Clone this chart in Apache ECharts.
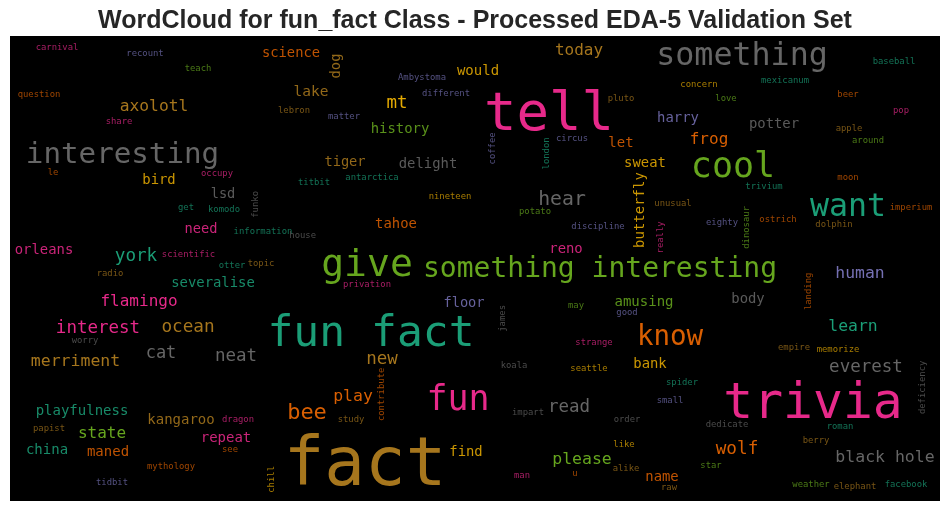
<!DOCTYPE html>
<html>
<head>
<meta charset="utf-8">
<style>html,body{margin:0;padding:0;background:#fff}#c{width:950px;height:511px}</style>
<script src="https://cdn.jsdelivr.net/npm/echarts@6/dist/echarts.min.js"></script>
</head>
<body>
<div id="c"></div>
<script>
const chartTitle = 'WordCloud for fun_fact Class - Processed EDA-5 Validation Set';
// each word: [text, x, y, weight, turned]
const tealWords = [
  ['fun fact',371,332,43],['want',848,206,31.6],['york',136,255,17.6],['severalise',213,282,13.9],
  ['playfulness',82,410,14],['china',47,449,14],['learn',853,326,16.4],['titbit',314,182,8.9],
  ['get',186,207,8.9],['komodo',224,209,8.9],['information',263,231,8.9],['otter',232,265,8.9],
  ['antarctica',372,177,8.9],['london',547,154,8.9,1],['baseball',894,61,8.9],['mexicanum',785,80,8.9],
  ['trivium',764,186,8.9],['spider',682,382,8.9],['roman',840,426,8.9],['facebook',906,484,8.9]
];
const orangeWords = [
  ['know',670,336,27.5],['bee',307,412,22],['science',291,52,13.8],['tahoe',396,223,13.9],
  ['frog',709,139,16],['let',621,142,14],['maned',108,451,14],['play',353,396,16.5],['wolf',737,448,17.7],
  ['name',662,476,13.9],['question',39,94,8.9],['le',53,172,8.9],['see',230,449,8.9],['mythology',171,466,8.9],
  ['landing',809,292,8.9,1],['contribute',382,395,8.9,1],['u',575,473,8.9],['beer',848,94,8.9],
  ['moon',848,177,8.9],['imperium',911,207,8.9],['ostrich',778,219,8.9]
];
const purpleWords = [
  ['human',860,273,16.4],['harry',678,117,13.9],['floor',464,302,13.7],['recount',145,53,8.9],
  ['Ambystoma',422,77,8.9],['different',446,93,8.9],['matter',344,116,8.9],['coffee',493,149,8.9,1],
  ['circus',572,138,8.9],['discipline',598,226,8.9],['good',627,312,8.9],['small',670,400,8.9],
  ['tidbit',112,482,8.9],['eighty',722,222,8.9]
];
const pinkWords = [
  ['tell',549,112,54],['trivia',813,402,49.7],['fun',458,398,35],['interest',98,327,17.5],['flamingo',139,301,16],
  ['orleans',44,249,13.9],['need',201,228,13.7],['repeat',226,437,14],['reno',566,248,13.9],
  ['carnival',57,47,8.9],['share',119,121,8.9],['occupy',217,173,8.9],['scientific',188.5,254,8.9],
  ['dragon',238,419,8.9],['privation',367,284,8.9],['strange',594,342,8.9],['man',522,475,8.9],
  ['pop',901,110,8.9],['really',661,238,8.9,1]
];
const greenWords = [
  ['give',367,263,38],['something interesting',600,268,28],['cool',733,165,35],['history',400,128,13.9],
  ['state',102,433,16],['amusing',644,301,14],['please',582,459,16.5],['teach',198,68,8.9],['may',576,305,8.9],
  ['love',726,98,8.9],['around',868,140,8.9],['potato',535,211,8.9],['dinosaur',747,228,8.9,1],
  ['star',711,465,8.9],['weather',811,484,8.9]
];
const goldWords = [
  ['mt',397,102,17.5],['bird',159,179,13.9],['would',478,70,14],['sweat',645,162,13.9],['butterfly',640,211,14,1],
  ['bank',650,363,13.9],['find',466,451,13.9],['nineteen',450,196,8.9],['chill',272,480,8.9,1],
  ['seattle',589,368,8.9],['memorize',838,349,8.9],['like',624,444,8.9],['concern',699,84,8.9]
];
const brownWords = [
  ['fact',365,463,67.5],['axolotl',154,106,16.3],['ocean',188,326,17.7],['merriment',75.5,361,16.5],
  ['kangaroo',181,419,14],['new',382,358,17.5],['today',579,50,16],['lake',311,91,14.5],['tiger',345,161,13.7],
  ['dog',336,67,13.9,1],['lebron',294,110,8.9],['radio',110,273,8.9],['topic',261,263,8.9],['papist',49,428,8.9],
  ['study',351,419,8.9],['pluto',621,98,8.9],['alike',626,468,8.9],['empire',794,347,8.9],['berry',816,440,8.9],
  ['raw',669,487,8.9],['elephant',855,486,8.9],['apple',849,128,8.9],['unusual',673,203,8.9],['dolphin',834,224,8.9]
];
const greyWords = [
  ['interesting',122.5,153,29.2],['something',742,55,31.7],['hear',562,198,19.8],['everest',866,366,17.5],
  ['black hole',885,457,16.5],['read',569,406,17.5],['cat',161,352,17],['neat',236,355,17.5],['lsd',223,193,13.7],
  ['delight',428,163,13.9],['potter',774,123,13.9],['body',748,298,13.9],['funko',256,205,8.9,1],['house',302.7,235,8.9],
  ['worry',85,340,8.9],['james',503,319,8.9,1],['koala',514,365,8.9],['impart',528,412,8.9],['order',627,419,8.9],
  ['dedicate',727,424,8.9],['deficiency',923,388,8.9,1]
];
const groups = [
  ['teal', tealWords, '#1b9e77'], ['orange', orangeWords, '#d95f02'], ['purple', purpleWords, '#7570b3'],
  ['pink', pinkWords, '#e7298a'], ['green', greenWords, '#66a61e'], ['gold', goldWords, '#e6ab02'],
  ['brown', brownWords, '#a6761d'], ['grey', greyWords, '#666666']
];
const chart = echarts.init(document.getElementById('c'), null, {renderer: 'canvas'});
chart.setOption({
  animation: false,
  backgroundColor: '#fff',
  title: {
    text: chartTitle, left: 'center', top: 4,
    textStyle: {fontFamily: '"Liberation Sans", Arial, sans-serif', fontWeight: 'bold', fontSize: 25, color: '#262626'}
  },
  grid: {left: 10, top: 36, width: 930, height: 465, show: true, backgroundColor: '#000', borderWidth: 0},
  xAxis: {type: 'value', min: 10, max: 940, show: false},
  yAxis: {type: 'value', min: 36, max: 501, inverse: true, show: false},
  series: groups.map(([name, words, color]) => ({
    name, type: 'scatter', symbolSize: 1, silent: true,
    itemStyle: {color: 'transparent'},
    data: words.map(w => {
      const shift = w[3] * 0.07;
      return {
        value: [w[1], w[2]],
        label: {
          show: true, position: 'inside', formatter: w[0], color,
          fontFamily: '"DejaVu Sans Mono", monospace', fontSize: w[3],
          rotate: w[4] ? 90 : 0, align: 'center', verticalAlign: 'middle',
          offset: w[4] ? [shift, 0] : [0, shift],
          opacity: w[3] < 10 ? 0.72 : (w[3] < 15 ? 0.88 : 1)
        }
      };
    })
  }))
});
</script>
</body>
</html>
